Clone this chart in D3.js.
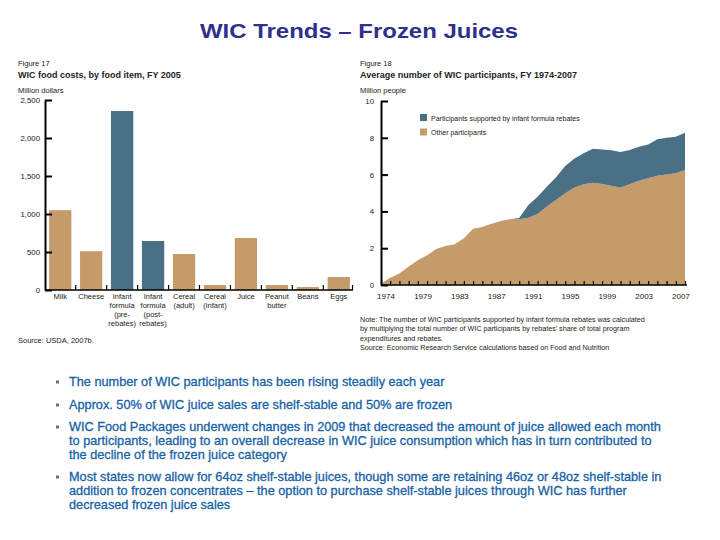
<!DOCTYPE html>
<html>
<head>
<meta charset="utf-8">
<script src="https://cdn.jsdelivr.net/npm/d3@7"></script>
<style>
  body { margin: 0; background: #fff; }
  svg { display: block; font-family: "Liberation Sans", Arial, sans-serif; }
</style>
</head>
<body>
<svg id="chart" width="720" height="540"></svg>
<script>
// Figure 17 - WIC food costs by item, FY 2005 (million dollars)
const foodItems = ["Milk", "Cheese", "Infant formula (pre-rebates)", "Infant formula (post-rebates)",
  "Cereal (adult)", "Cereal (infant)", "Juice", "Peanut butter", "Beans", "Eggs"];
const foodLabelLines = [["Milk"], ["Cheese"], ["Infant", "formula", "(pre-", "rebates)"],
  ["Infant", "formula", "(post-", "rebates)"], ["Cereal", "(adult)"], ["Cereal", "(infant)"],
  ["Juice"], ["Peanut", "butter"], ["Beans"], ["Eggs"]];
const foodCosts = [1050, 510, 2355, 645, 474, 65, 684, 65, 39, 171];
const isFormula = [false, false, true, true, false, false, false, false, false, false];
const costTicks = [0, 500, 1000, 1500, 2000, 2500];

// Figure 18 - average number of WIC participants (million people)
const years = d3.range(1974, 2008);
const otherParticipants = [0.08, 0.4, 0.63, 1.0, 1.34, 1.62, 1.95, 2.12, 2.22, 2.54, 3.06, 3.15, 3.33, 3.48, 3.57,
  3.58, 3.66, 3.86, 4.26, 4.62, 4.98, 5.3, 5.47, 5.56, 5.49, 5.4, 5.3, 5.47, 5.67, 5.8, 5.94, 6.01, 6.07, 6.25];
const rebateParticipants = [0, 0, 0, 0, 0, 0, 0, 0, 0, 0, 0, 0, 0, 0, 0,
  0.06, 0.69, 0.94, 1.08, 1.23, 1.49, 1.58, 1.69, 1.85, 1.88, 1.92, 1.93, 1.87, 1.85, 1.84, 1.98, 1.99, 1.99, 2.03];
const yearLabels = [1974, 1979, 1983, 1987, 1991, 1995, 1999, 2003, 2007];
const peopleTicks = [0, 2, 4, 6, 8, 10];

const bullets = [
  ["The number of WIC participants has been rising steadily each year"],
  ["Approx. 50% of WIC juice sales are shelf-stable and 50% are frozen"],
  ["WIC Food Packages underwent changes in 2009 that decreased the amount of juice allowed each month",
   "to participants, leading to an overall decrease in WIC juice consumption which has in turn contributed to",
   "the decline of the frozen juice category"],
  ["Most states now allow for 64oz shelf-stable juices, though some are retaining 46oz or 48oz shelf-stable in",
   "addition to frozen concentrates \u2013 the option to purchase shelf-stable juices through WIC has further",
   "decreased frozen juice sales"]
];

const tan = "#c59b6b", slate = "#4a7086", ink = "#222";
const svg = d3.select("#chart");

svg.append("text").attr("x", 200).attr("y", 38)
  .attr("font-size", 21).attr("font-weight", "bold").attr("fill", "#2f2f8c")
  .attr("textLength", 318).attr("lengthAdjust", "spacingAndGlyphs")
  .text("WIC Trends \u2013 Frozen Juices");

// ---------- left: bar chart ----------
const left = svg.append("g");
left.append("text").attr("x", 18).attr("y", 66).attr("font-size", 7.5).attr("fill", ink).text("Figure 17");
left.append("text").attr("x", 18).attr("y", 78).attr("font-size", 9).attr("font-weight", "bold").attr("fill", ink)
  .text("WIC food costs, by food item, FY 2005");
left.append("text").attr("x", 18).attr("y", 93).attr("font-size", 7.5).attr("fill", ink).text("Million dollars");

const xBand = d3.scaleBand().domain(foodItems).range([46, 353]).paddingInner(0.28).paddingOuter(0.1);
const yCost = d3.scaleLinear().domain([0, 2500]).range([290, 100]);

left.selectAll("rect.bar")
  .data(foodItems).enter()
  .append("rect")
  .attr("class", "bar")
  .attr("x", d => xBand(d))
  .attr("width", xBand.bandwidth())
  .attr("y", (d, i) => yCost(foodCosts[i]))
  .attr("height", (d, i) => yCost(0) - yCost(foodCosts[i]))
  .attr("fill", (d, i) => isFormula[i] ? slate : tan);

const yAxisL = left.append("g").attr("transform", "translate(45,0)")
  .call(d3.axisLeft(yCost).tickValues(costTicks).tickFormat(d3.format(",")).tickSizeInner(-7).tickSizeOuter(0).tickPadding(5));
yAxisL.select(".domain").attr("stroke-width", 2);
yAxisL.selectAll(".tick line").attr("stroke-width", 2);
yAxisL.selectAll("text").attr("font-size", 7.8).attr("fill", ink).attr("font-family", "Liberation Sans");

// baseline with small separators between bars
left.append("line").attr("x1", 45).attr("x2", 353).attr("y1", 290).attr("y2", 290)
  .attr("stroke", "#000").attr("stroke-width", 1.5);
const gap = xBand.step() - xBand.bandwidth();
left.selectAll("line.sep")
  .data(foodItems.slice(1).concat(["end"])).enter()
  .append("line")
  .attr("class", "sep")
  .attr("x1", (d, i) => i < foodItems.length - 1 ? xBand(d) - gap / 2 : 352.5)
  .attr("x2", (d, i) => i < foodItems.length - 1 ? xBand(d) - gap / 2 : 352.5)
  .attr("y1", 290).attr("y2", 285)
  .attr("stroke", "#000").attr("stroke-width", 1.2);

left.selectAll("text.cat")
  .data(foodItems).enter()
  .append("text")
  .attr("class", "cat")
  .attr("text-anchor", "middle")
  .attr("font-size", 7.5).attr("fill", ink)
  .attr("x", d => xBand(d) + xBand.bandwidth() / 2)
  .attr("y", 299)
  .each(function(d, i) {
    d3.select(this).selectAll("tspan").data(foodLabelLines[i]).enter()
      .append("tspan").attr("x", xBand(d) + xBand.bandwidth() / 2)
      .attr("dy", (t, j) => j === 0 ? 0 : 9).text(t => t);
  });
left.append("text").attr("x", 18).attr("y", 343).attr("font-size", 7.5).attr("fill", ink).text("Source: USDA, 2007b.");

// ---------- right: stacked area ----------
const right = svg.append("g");
right.append("text").attr("x", 360).attr("y", 66).attr("font-size", 7.5).attr("fill", ink).text("Figure 18");
right.append("text").attr("x", 360).attr("y", 78).attr("font-size", 9).attr("font-weight", "bold").attr("fill", ink)
  .text("Average number of WIC participants, FY 1974-2007");
right.append("text").attr("x", 360).attr("y", 93).attr("font-size", 7.5).attr("fill", ink).text("Million people");

const xYear = d3.scaleLinear().domain([1974, 2007]).range([381, 685]);
const yPeople = d3.scaleLinear().domain([0, 10]).range([285, 101]);

const rows = years.map((y, i) => ({ year: y, other: otherParticipants[i], rebate: rebateParticipants[i] }));
const stacked = d3.stack().keys(["other", "rebate"])(rows);
const area = d3.area()
  .x(d => xYear(d.data.year))
  .y0(d => yPeople(d[0]))
  .y1(d => yPeople(d[1]));

right.selectAll("path.layer")
  .data(stacked).enter()
  .append("path")
  .attr("class", "layer")
  .attr("d", area)
  .attr("fill", d => d.key === "other" ? tan : slate);

const yAxisR = right.append("g").attr("transform", "translate(381,0)")
  .call(d3.axisLeft(yPeople).tickValues(peopleTicks).tickSizeInner(-7).tickSizeOuter(0).tickPadding(7));
yAxisR.select(".domain").attr("stroke-width", 2);
yAxisR.selectAll(".tick line").attr("stroke-width", 2);
yAxisR.selectAll("text").attr("font-size", 7.8).attr("fill", ink).attr("font-family", "Liberation Sans");

const xAxisR = right.append("g").attr("transform", "translate(0,285)")
  .call(d3.axisBottom(xYear).tickValues(years).tickFormat("").tickSizeInner(-4).tickSizeOuter(0));
xAxisR.select(".domain").attr("stroke-width", 1.5).attr("d", "M381,0H687");
xAxisR.selectAll(".tick line").attr("stroke-width", 1.2);

right.selectAll("text.yr")
  .data(yearLabels).enter()
  .append("text")
  .attr("class", "yr")
  .attr("text-anchor", "middle")
  .attr("font-size", 8).attr("fill", ink)
  .attr("x", d => d === 1974 ? xYear(d) + 5 : xYear(d) - 4)
  .attr("y", 299)
  .text(d => d);

const legendKeys = [["Participants supported by infant formula rebates", slate], ["Other participants", tan]];
const legend = right.selectAll("g.leg").data(legendKeys).enter().append("g").attr("class", "leg")
  .attr("transform", (d, i) => `translate(420,${114 + i * 14.5})`);
legend.append("rect").attr("width", 7).attr("height", 7).attr("fill", d => d[1]);
legend.append("text").attr("x", 11).attr("y", 6.5).attr("font-size", 7).attr("fill", ink).text(d => d[0]);

const notes = ["Note: The number of WIC participants supported by infant formula rebates was calculated",
  "by multiplying the total number of WIC participants by rebates' share of total program",
  "expenditures and rebates.",
  "Source: Economic Research Service calculations based on Food and Nutrition"];
right.selectAll("text.note")
  .data(notes).enter()
  .append("text")
  .attr("class", "note")
  .attr("x", 360)
  .attr("y", (d, i) => 322 + i * 9.3)
  .attr("font-size", 7.2).attr("fill", ink)
  .text(d => d);

// ---------- bullets ----------
const bulletG = svg.append("g").attr("font-family", "'Liberation Sans Narrow', 'Liberation Sans', sans-serif")
  .attr("fill", "#1762a6");
const bulletTop = [386, 409, 431, 481];
bullets.forEach((lines, b) => {
  bulletG.append("rect").attr("x", 56).attr("y", bulletTop[b] - 5.5).attr("width", 3).attr("height", 3)
    .attr("fill", "#5a6f8a");
  lines.forEach((line, j) => {
    bulletG.append("text").attr("class", "bl").attr("x", 69).attr("y", bulletTop[b] + j * 14)
      .attr("font-size", 12).attr("stroke", "#1762a6").attr("stroke-width", 0.3).text(line);
  });
});
// fit the longest line to the slide's text width
const probe = bulletG.selectAll("text.bl").nodes();
const widest = d3.max(probe, n => n.getComputedTextLength());
const fs = 12 * 593 / widest;
bulletG.selectAll("text.bl").attr("font-size", fs);
</script>
</body>
</html>
